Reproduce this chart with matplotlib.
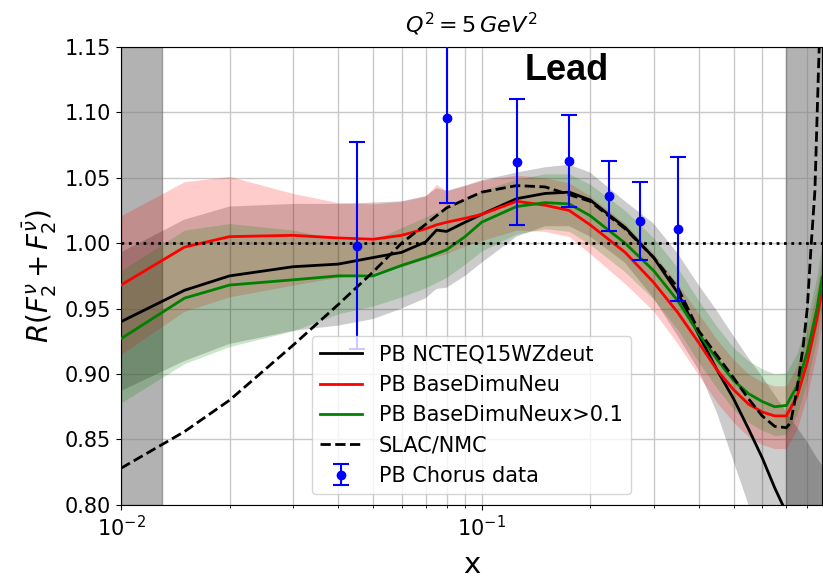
import numpy as np
import matplotlib
matplotlib.use("Agg")
import matplotlib.pyplot as plt

# x grid of the PDF ratio curves
x_grid = [0.01, 0.015, 0.02, 0.03, 0.04, 0.05, 0.06, 0.07, 0.075, 0.08, 0.09, 0.1,
          0.125, 0.15, 0.175, 0.2, 0.25, 0.3, 0.35, 0.4, 0.45, 0.5, 0.55, 0.6,
          0.65, 0.7, 0.75, 0.8, 0.85, 0.88]

# PB NCTEQ15WZdeut
ncteq = [0.940, 0.964, 0.975, 0.982, 0.984, 0.989, 0.993, 1.001, 1.010, 1.009, 1.016, 1.022,
         1.034, 1.038, 1.039, 1.033, 1.012, 0.989, 0.962, 0.930, 0.903, 0.881, 0.858, 0.836,
         0.813, 0.794, 0.770, 0.745, 0.715, 0.695]
ncteq_hi = [0.993, 1.018, 1.028, 1.030, 1.030, 1.031, 1.032, 1.036, 1.042, 1.040, 1.044, 1.048,
            1.054, 1.058, 1.060, 1.054, 1.032, 1.015, 0.992, 0.968, 0.948, 0.929, 0.912, 0.898,
            0.884, 0.871, 0.859, 0.848, 0.836, 0.830]
ncteq_lo = [0.887, 0.910, 0.923, 0.933, 0.937, 0.942, 0.950, 0.958, 0.965, 0.966, 0.975, 0.985,
            1.005, 1.013, 1.013, 1.005, 0.985, 0.958, 0.929, 0.903, 0.870, 0.833, 0.800, 0.770,
            0.740, 0.710, 0.680, 0.650, 0.620, 0.600]

# PB BaseDimuNeu
dimu = [0.968, 0.997, 1.005, 1.006, 1.004, 1.003, 1.006, 1.011, 1.014, 1.016, 1.019, 1.022,
        1.032, 1.029, 1.025, 1.014, 0.993, 0.970, 0.947, 0.924, 0.903, 0.888, 0.877, 0.871,
        0.868, 0.868, 0.883, 0.909, 0.941, 0.964]
dimu_hi = [1.021, 1.047, 1.051, 1.038, 1.031, 1.030, 1.032, 1.036, 1.045, 1.040, 1.044, 1.048,
           1.052, 1.050, 1.046, 1.036, 1.015, 0.992, 0.969, 0.946, 0.926, 0.911, 0.900, 0.894,
           0.891, 0.891, 0.906, 0.932, 0.965, 0.988]
dimu_lo = [0.915, 0.948, 0.959, 0.968, 0.974, 0.978, 0.982, 0.988, 0.990, 0.992, 0.998, 1.002,
           1.010, 1.009, 1.005, 0.992, 0.969, 0.948, 0.923, 0.899, 0.878, 0.863, 0.852, 0.846,
           0.843, 0.843, 0.858, 0.884, 0.916, 0.939]

# PB BaseDimuNeux>0.1
dimu_cut = [0.927, 0.958, 0.968, 0.972, 0.975, 0.975, 0.983, 0.989, 0.992, 0.995, 1.005, 1.016,
            1.028, 1.031, 1.030, 1.021, 1.000, 0.979, 0.956, 0.931, 0.911, 0.895, 0.885, 0.879,
            0.875, 0.876, 0.891, 0.917, 0.949, 0.974]
dimu_cut_hi = [0.979, 1.010, 1.015, 1.010, 1.003, 1.002, 1.012, 1.020, 1.024, 1.027, 1.034, 1.040,
               1.049, 1.053, 1.053, 1.045, 1.025, 1.004, 0.981, 0.956, 0.936, 0.920, 0.910, 0.904,
               0.900, 0.901, 0.916, 0.942, 0.974, 0.999]
dimu_cut_lo = [0.878, 0.908, 0.921, 0.933, 0.946, 0.952, 0.959, 0.966, 0.970, 0.974, 0.984, 0.994,
               1.007, 1.011, 1.009, 0.999, 0.978, 0.957, 0.934, 0.909, 0.889, 0.873, 0.863, 0.857,
               0.853, 0.854, 0.869, 0.895, 0.927, 0.952]

# SLAC/NMC parametrisation
slac_x = [0.01, 0.015, 0.02, 0.03, 0.04, 0.05, 0.06, 0.08, 0.1, 0.125, 0.15, 0.2, 0.25, 0.3,
          0.35, 0.4, 0.45, 0.5, 0.55, 0.6, 0.65, 0.7, 0.72, 0.75, 0.78, 0.8, 0.82, 0.84,
          0.86, 0.88]
slac_y = [0.828, 0.856, 0.880, 0.922, 0.953, 0.978, 1.000, 1.027, 1.039, 1.044, 1.043, 1.032,
          1.011, 0.989, 0.966, 0.933, 0.914, 0.897, 0.881, 0.868, 0.860, 0.859, 0.863, 0.889,
          0.922, 0.950, 0.998, 1.040, 1.135, 1.220]

# CHORUS lead data
chorus_x = [0.045, 0.08, 0.125, 0.175, 0.225, 0.275, 0.35]
chorus_y = [0.998, 1.096, 1.062, 1.063, 1.036, 1.017, 1.011]
chorus_err = [0.079, 0.065, 0.048, 0.035, 0.027, 0.030, 0.055]

fig = plt.figure(figsize=(8.23, 5.79), dpi=100)
ax = fig.add_axes([0.147, 0.128, 0.852, 0.791])

# excluded regions
ax.axvspan(0.01, 0.013, facecolor='gray', edgecolor='#707070', lw=1, alpha=0.6, zorder=1)
ax.axvspan(0.7, 0.9, facecolor='gray', edgecolor='#707070', lw=1, alpha=0.6, zorder=1)

ax.fill_between(x_grid, ncteq_lo, ncteq_hi, color='black', alpha=0.2, lw=0, zorder=2)
ax.fill_between(x_grid, dimu_lo, dimu_hi, color='red', alpha=0.2, lw=0, zorder=2)
ax.fill_between(x_grid, dimu_cut_lo, dimu_cut_hi, color='green', alpha=0.2, lw=0, zorder=2)

l1, = ax.plot(x_grid, ncteq, color='black', lw=2, label='PB NCTEQ15WZdeut', zorder=3)
l2, = ax.plot(x_grid, dimu, color='red', lw=2, label='PB BaseDimuNeu', zorder=3)
l3, = ax.plot(x_grid, dimu_cut, color='green', lw=2, label='PB BaseDimuNeux>0.1', zorder=3)
l4, = ax.plot(slac_x, slac_y, color='black', ls='--', lw=2, label='SLAC/NMC', zorder=3)
eb = ax.errorbar(chorus_x, chorus_y, yerr=chorus_err, fmt='o', color='blue', ms=6,
                 capsize=6, elinewidth=1.5, capthick=1.5, label='PB Chorus data', zorder=4)

ax.axhline(1.0, color='black', ls=':', lw=2, zorder=3)

ax.set_xscale('log')
ax.set_xlim(0.01, 0.88)
ax.set_ylim(0.80, 1.15)
ax.set_yticks(np.arange(0.80, 1.151, 0.05))
ax.yaxis.set_major_formatter(matplotlib.ticker.FormatStrFormatter('%.2f'))
ax.grid(True, which='major', color='#c8c8c8', lw=1)
ax.grid(True, which='minor', axis='x', color='#c8c8c8', lw=1)
ax.set_axisbelow(True)
ax.tick_params(labelsize=15)

ax.set_xlabel('x', fontsize=21, labelpad=8)
ax.set_ylabel(r'$R(F_2^{\nu} + F_2^{\bar{\nu}})$', fontsize=20)
ax.set_title(r'$Q^2 = 5\,GeV^2$', fontsize=16, pad=10)
ax.text(0.172, 1.132, 'Lead', fontsize=26, fontweight='bold', family='Liberation Sans',
        ha='center', va='center')

ax.legend(handles=[l1, l2, l3, l4, eb], loc='lower center', fontsize=15)

fig.savefig('out.png', dpi=100)
